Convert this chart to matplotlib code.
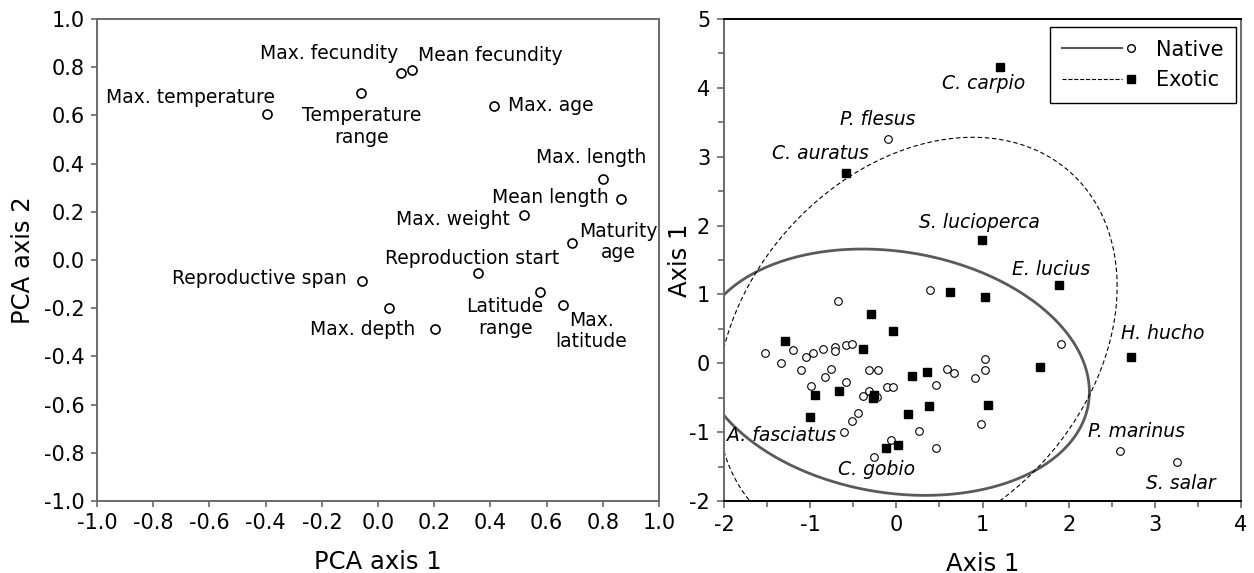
import numpy as np
import matplotlib
matplotlib.use("Agg")
import matplotlib.pyplot as plt
from matplotlib.lines import Line2D
from matplotlib.legend_handler import HandlerBase

plt.rcParams['font.family'] = ['DejaVu Sans']
plt.rcParams['axes.unicode_minus'] = False

# ---- left panel: PCA loadings of life-history traits ----
trait_x = [-0.396, -0.062, 0.083, 0.122, 0.413, 0.800, 0.864, 0.520,
           0.690, 0.355, -0.059, 0.038, 0.203, 0.577, 0.658]
trait_y = [0.607, 0.692, 0.775, 0.789, 0.637, 0.334, 0.252, 0.185,
           0.069, -0.055, -0.086, -0.200, -0.288, -0.131, -0.186]

trait_labels = ["Max. fecundity", "Mean fecundity", "Max. temperature",
                "Temperature\nrange", "Max. age", "Max. length", "Mean length",
                "Max. weight", "Maturity\nage", "Reproduction start",
                "Reproductive span", "Latitude\nrange", "Max. depth",
                "Max.\nlatitude"]
trait_label_x = [-0.175, 0.399, -0.668, -0.059, 0.613, 0.757, 0.614,
                 0.267, 0.855, 0.333, -0.423, 0.452, -0.054, 0.759]
trait_label_y = [0.855, 0.848, 0.676, 0.554, 0.641, 0.425, 0.258,
                 0.168, 0.076, 0.007, -0.076, -0.239, -0.288, -0.294]

# ---- right panel: species scores ----
native_x = [0.386, -0.68, 1.909, -1.52, -1.34, -1.195, -1.11, -1.045, -0.964,
            -0.855, -0.714, -0.714, -0.582, -0.514, -0.759, -0.827, -0.99,
            -0.59, -0.318, -0.214, -0.318, -0.386, -0.227, -0.105, -0.036,
            0.455, 0.582, 0.673, 0.914, 1.032, 1.032, 0.977, -0.441, -0.518,
            -0.605, 0.259, -0.068, 0.464, -0.264, 2.595, 3.259, -0.095]
native_y = [1.063, 0.908, 0.28, 0.145, 0.005, 0.193, -0.097, 0.097, 0.155,
            0.203, 0.232, 0.184, 0.26, 0.285, -0.082, -0.203, -0.324,
            -0.266, -0.097, -0.097, -0.406, -0.469, -0.493, -0.338, -0.343,
            -0.319, -0.087, -0.135, -0.208, 0.063, -0.097, -0.889, -0.725,
            -0.841, -1.005, -0.986, -1.121, -1.237, -1.362, -1.27, -1.44, 3.26]

exotic_x = [1.205, -0.59, 0.99, 1.886, 0.627, 1.023, -0.291, -0.045, -1.291,
            -0.382, 2.718, 1.668, 0.177, 0.355, -0.945, -0.668, -0.264,
            -0.268, 0.373, 1.068, 0.136, -1.0, 0.014, -0.123]
exotic_y = [4.30, 2.76, 1.79, 1.13, 1.029, 0.961, 0.71, 0.469, 0.329, 0.203,
            0.097, -0.053, -0.184, -0.121, -0.459, -0.401, -0.459, -0.498,
            -0.618, -0.599, -0.744, -0.787, -1.184, -1.232]

species = ["C. carpio", "P. flesus", "C. auratus", "S. lucioperca", "E. lucius",
           "H. hucho", "P. marinus", "S. salar", "A. fasciatus", "C. gobio"]
species_x = [1.01, -0.214, -0.877, 0.964, 1.79, 3.095, 2.79, 3.305, -1.332, -0.232]
species_y = [4.06, 3.54, 3.05, 2.05, 1.365, 0.425, -0.99, -1.74, -1.048, -1.546]

# ellipses: centre and covariance-like shape matrix
native_centre = [-0.03, -0.13]
native_shape = [[5.15, -0.65], [-0.65, 3.20]]
exotic_centre = [0.24, 0.28]
exotic_shape = [[5.39, 1.94], [1.94, 9.01]]


def ellipse_xy(centre, shape, n=400):
    t = np.linspace(0, 2 * np.pi, n)
    L = np.linalg.cholesky(np.array(shape))
    pts = L @ np.vstack([np.cos(t), np.sin(t)])
    return pts[0] + centre[0], pts[1] + centre[1]


class LineThenMarker(HandlerBase):
    # line on the left, marker just after its end
    def create_artists(self, legend, orig_handle, xdescent, ydescent,
                       width, height, fontsize, trans):
        y = height / 2 - ydescent
        x0 = -xdescent
        ln = Line2D([x0, x0 + width * 0.80], [y, y],
                    color=orig_handle.get_color(),
                    linestyle=orig_handle.get_linestyle(),
                    linewidth=orig_handle.get_linewidth())
        mk = Line2D([x0 + width * 0.92], [y], linestyle='None',
                    marker=orig_handle.get_marker(),
                    markersize=orig_handle.get_markersize(),
                    markerfacecolor=orig_handle.get_markerfacecolor(),
                    markeredgecolor=orig_handle.get_markeredgecolor(),
                    markeredgewidth=orig_handle.get_markeredgewidth())
        ln.set_transform(trans)
        mk.set_transform(trans)
        return [ln, mk]


fig = plt.figure(figsize=(12.54, 5.73), dpi=100)
ax1 = fig.add_axes([0.0774, 0.1257, 0.4482, 0.8412])
ax2 = fig.add_axes([0.5774, 0.1257, 0.4123, 0.8412])

tick_fs = 15
lab_fs = 17.5
ann_fs = 13.5

# left panel
ax1.plot(trait_x, trait_y, linestyle='None', marker='o', markersize=6.5,
         markerfacecolor='white', markeredgecolor='black', markeredgewidth=1.2)
for txt, tx, ty in zip(trait_labels, trait_label_x, trait_label_y):
    ax1.text(tx, ty, txt, ha='center', va='center', fontsize=ann_fs,
             linespacing=1.15)
ax1.set_xlim(-1.0, 1.0)
ax1.set_ylim(-1.0, 1.0)
ticks = np.round(np.arange(-1.0, 1.01, 0.2), 1) + 0.0
tick_text = [f"{v:.1f}".replace("-0.0", "0.0") for v in ticks]
ax1.set_xticks(ticks)
ax1.set_yticks(ticks)
ax1.set_xticklabels(tick_text)
ax1.set_yticklabels(tick_text)
ax1.set_xlabel("PCA axis 1", fontsize=lab_fs, labelpad=12)
ax1.set_ylabel("PCA axis 2", fontsize=lab_fs, labelpad=6)
for s in ax1.spines.values():
    s.set_color('#6a6a6a')
    s.set_linewidth(1.4)
ax1.tick_params(direction='out', length=4, width=1.2, color='#6a6a6a',
                labelsize=tick_fs, pad=5)

# right panel
ex, ey = ellipse_xy(native_centre, native_shape)
ax2.plot(ex, ey, color='#5a5a5a', linewidth=2.0)
ex, ey = ellipse_xy(exotic_centre, exotic_shape)
ax2.plot(ex, ey, color='black', linewidth=0.8, linestyle=(0, (4, 2.5)))
ax2.plot(native_x, native_y, linestyle='None', marker='o', markersize=5.5,
         markerfacecolor='white', markeredgecolor='black', markeredgewidth=0.8)
ax2.plot(exotic_x, exotic_y, linestyle='None', marker='s', markersize=6,
         markerfacecolor='black', markeredgecolor='black')
for txt, tx, ty in zip(species, species_x, species_y):
    ax2.text(tx, ty, txt, ha='center', va='center', fontsize=ann_fs,
             style='italic')
ax2.set_xlim(-2, 4)
ax2.set_ylim(-2, 5)
ax2.set_xticks(np.arange(-2, 5, 1))
ax2.set_yticks(np.arange(-2, 6, 1))
ax2.set_xticks(np.arange(-1.5, 4, 1), minor=True)
ax2.set_yticks(np.arange(-1.5, 5, 1), minor=True)
ax2.set_xlabel("Axis 1", fontsize=lab_fs, labelpad=12)
ax2.set_ylabel("Axis 1", fontsize=lab_fs, labelpad=-2)
ax2.spines['top'].set_color('black')
ax2.spines['bottom'].set_color('black')
ax2.spines['left'].set_color('#6a6a6a')
ax2.spines['right'].set_color('#6a6a6a')
for s in ax2.spines.values():
    s.set_linewidth(1.4)
ax2.tick_params(which='both', direction='out', width=1.2, color='#6a6a6a',
                labelsize=tick_fs, pad=5)
ax2.tick_params(which='major', length=5)
ax2.tick_params(which='minor', length=4)

h_native = Line2D([], [], color='#5a5a5a', linewidth=1.5, marker='o',
                  markersize=5.5, markerfacecolor='white',
                  markeredgecolor='black', markeredgewidth=1.0)
h_exotic = Line2D([], [], color='black', linewidth=0.8, linestyle=(0, (4, 2.5)),
                  marker='s', markersize=6, markerfacecolor='black',
                  markeredgecolor='black')
leg = ax2.legend([h_native, h_exotic], ["Native", "Exotic"],
                 handler_map={Line2D: LineThenMarker()},
                 loc='upper right', bbox_to_anchor=(0.99, 0.983),
                 borderaxespad=0, fontsize=tick_fs, handlelength=3.6,
                 handletextpad=0.9, labelspacing=0.5, borderpad=0.6,
                 fancybox=False, framealpha=1, edgecolor='black')
leg.get_frame().set_linewidth(1.0)

fig.savefig("out.png", dpi=100)
